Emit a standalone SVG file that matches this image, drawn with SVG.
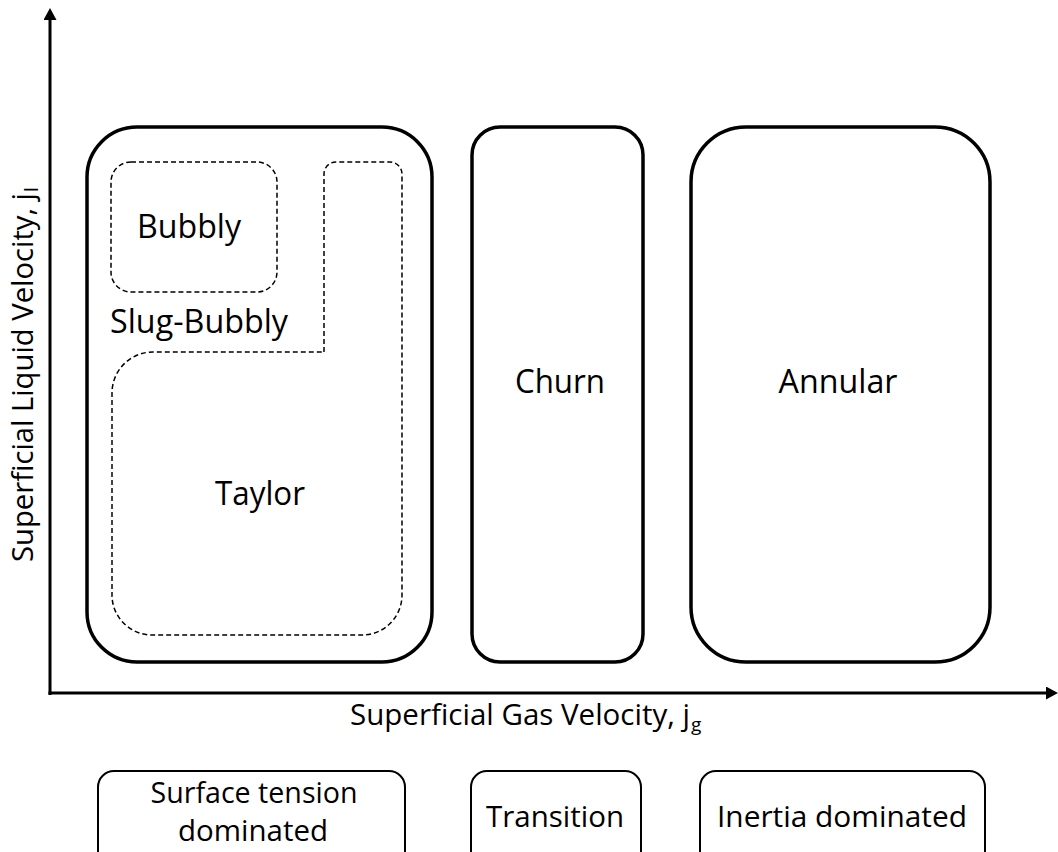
<svg xmlns="http://www.w3.org/2000/svg" width="1058" height="852" viewBox="0 0 1058 852">
<defs>
<style>
.t{font-family:"Open Sans","Liberation Sans",sans-serif;fill:#000;}
.big{font-size:32px;text-anchor:middle;}
.mid{font-size:29px;text-anchor:middle;}
.ax{font-size:29px;}
.sub{font-size:19px;}
.solid{fill:#fff;stroke:#000;stroke-width:3.5;}
.dash{fill:none;stroke:#000;stroke-width:1.5;stroke-dasharray:5 3;}
.leg{fill:#fff;stroke:#000;stroke-width:2;}
.axis{stroke:#000;stroke-width:3;fill:none;}
</style>
<marker id="ah" markerUnits="userSpaceOnUse" markerWidth="12" markerHeight="13" refX="0" refY="6.5" orient="auto">
<path d="M0,0 L12,6.5 L0,13 z" fill="#000"/>
</marker>
</defs>
<rect width="1058" height="852" fill="#fff"/>
<g id="connectors">
<line class="axis" x1="50" y1="695" x2="50" y2="20" marker-end="url(#ah)"/>
<line class="axis" x1="48.5" y1="693" x2="1046" y2="693" marker-end="url(#ah)"/>
</g>
<g id="surface-region">
<rect class="solid" x="87" y="127" width="345" height="535" rx="50" ry="50"/>
</g>
<g id="bubbly">
<rect class="dash" x="111" y="162" width="166" height="130" rx="20" ry="20"/>
<text class="t big" x="189" y="238" textLength="104" lengthAdjust="spacingAndGlyphs">Bubbly</text>
</g>
<g id="slug-bubbly">
<text class="t big" x="199" y="333" textLength="178" lengthAdjust="spacingAndGlyphs">Slug-Bubbly</text>
</g>
<g id="taylor">
<path class="dash" d="M324,352 L324,174 A12,12 0 0 1 336,162 L390,162 A12,12 0 0 1 402,174 L402,595 A40,40 0 0 1 362,635 L152,635 A40,40 0 0 1 112,595 L112,393 A41,41 0 0 1 153,352 Z"/>
<text class="t big" x="260" y="505" textLength="90" lengthAdjust="spacingAndGlyphs">Taylor</text>
</g>
<g id="churn">
<rect class="solid" x="472" y="127" width="171" height="535" rx="28" ry="28"/>
<text class="t big" x="560" y="393" textLength="90" lengthAdjust="spacingAndGlyphs">Churn</text>
</g>
<g id="annular">
<rect class="solid" x="691" y="127" width="299" height="535" rx="55" ry="55"/>
<text class="t big" x="838" y="393" textLength="119" lengthAdjust="spacingAndGlyphs">Annular</text>
</g>
<g id="x-label">
<text class="t ax" x="350" y="725" textLength="340" lengthAdjust="spacingAndGlyphs">Superficial Gas Velocity, j</text>
<text class="t sub" x="691" y="731">g</text>
</g>
<g id="y-label">
<text class="t ax" transform="translate(33,562) rotate(-90)" x="0" y="0" textLength="369" lengthAdjust="spacingAndGlyphs">Superficial Liquid Velocity, j</text>
<text class="t sub" transform="translate(38,192) rotate(-90)" x="0" y="0">l</text>
</g>
<g id="legend-surface">
<rect class="leg" x="98" y="771" width="307" height="110" rx="16" ry="16"/>
<text class="t mid" x="254" y="803" textLength="207" lengthAdjust="spacingAndGlyphs">Surface tension</text>
<text class="t mid" x="253" y="841" textLength="150" lengthAdjust="spacingAndGlyphs">dominated</text>
</g>
<g id="legend-transition">
<rect class="leg" x="471" y="771" width="170" height="110" rx="16" ry="16"/>
<text class="t mid" x="555" y="827" textLength="138" lengthAdjust="spacingAndGlyphs">Transition</text>
</g>
<g id="legend-inertia">
<rect class="leg" x="700" y="771" width="285" height="110" rx="16" ry="16"/>
<text class="t mid" x="842" y="827" textLength="250" lengthAdjust="spacingAndGlyphs">Inertia dominated</text>
</g>
</svg>
